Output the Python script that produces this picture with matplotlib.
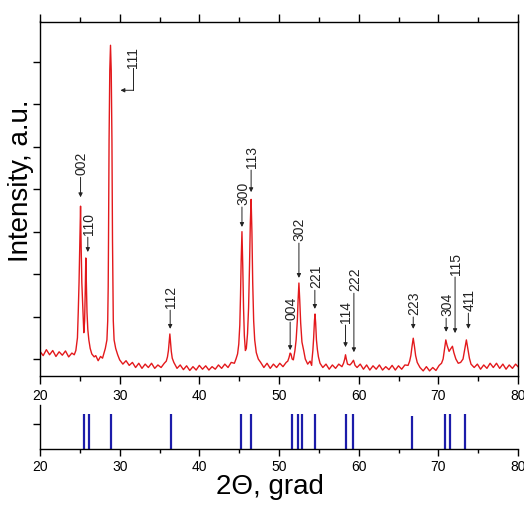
import numpy as np
import matplotlib
matplotlib.use("Agg")
import matplotlib.pyplot as plt
from matplotlib.ticker import MultipleLocator

plt.rcParams["font.family"] = ["Liberation Sans", "DejaVu Sans"]

# measured pattern, 2theta [deg] vs intensity [a.u.]
two_theta = [
    20.0, 20.4, 20.8, 21.2, 21.6, 22.0, 22.4, 22.8, 23.2, 23.6, 24.0, 24.3,
    24.5, 24.7, 24.8, 24.9, 25.0, 25.09, 25.16, 25.25, 25.38, 25.5,
    25.6, 25.68, 25.75, 25.82, 25.9, 26.0, 26.13, 26.3, 26.5, 26.8,
    27.0, 27.3, 27.6, 27.85,
    28.0, 28.2, 28.4, 28.5, 28.56, 28.6, 28.67, 28.76, 28.85, 28.94, 29.03, 29.1,
    29.15, 29.2, 29.3, 29.5, 29.75,
    30.0, 30.4, 30.8, 31.2, 31.6, 32.0, 32.4, 32.8, 33.2, 33.6, 34.0, 34.4, 34.8, 35.2, 35.6,
    35.85, 36.0, 36.12, 36.22, 36.3, 36.38, 36.48, 36.6, 36.8,
    37.2, 37.6, 38.0, 38.4, 38.8, 39.2, 39.6, 40.0, 40.4, 40.8, 41.2, 41.6, 42.0,
    42.4, 42.8, 43.2, 43.6, 44.0, 44.4,
    44.6, 44.8, 44.95, 45.08, 45.17, 45.25, 45.35, 45.45, 45.55, 45.65, 45.78,
    45.9, 46.05, 46.18, 46.3, 46.4, 46.5, 46.6, 46.7, 46.82, 46.95, 47.15, 47.4,
    47.7, 48.1, 48.5, 48.9, 49.3, 49.7, 50.1, 50.5, 50.9,
    51.1, 51.25, 51.4, 51.5, 51.65,
    51.8, 52.0, 52.15, 52.3, 52.4, 52.5, 52.6, 52.72, 52.88, 53.1, 53.3,
    53.6, 53.9, 54.1,
    54.15, 54.25, 54.35, 54.45, 54.52, 54.6, 54.7, 54.82, 54.95, 55.15,
    55.5, 55.9, 56.3, 56.7, 57.1, 57.5, 57.9,
    58.1, 58.25, 58.35, 58.45, 58.6, 58.9, 59.1, 59.35, 59.55,
    59.8, 60.2, 60.6, 61.0, 61.4, 61.8, 62.2, 62.6, 63.0, 63.4, 63.8, 64.2, 64.6,
    65.0, 65.4, 65.8, 66.2,
    66.4, 66.55, 66.7, 66.85, 67.0, 67.15, 67.35,
    67.7, 68.1, 68.5, 68.9, 69.3, 69.7, 70.1, 70.4,
    70.6, 70.75, 70.94, 71.1, 71.35, 71.55, 71.77, 71.95, 72.2, 72.5, 72.8,
    73.1, 73.3, 73.52, 73.7, 73.9, 74.1,
    74.5, 74.9, 75.3, 75.7, 76.1, 76.5, 76.9, 77.3, 77.7, 78.1, 78.5, 78.9,
    79.3, 79.7, 80.0,
]
intensity = [
    0.18, 0.08, 0.22, 0.10, 0.20, 0.06, 0.17, 0.09, 0.19, 0.05, 0.14, 0.10,
    0.20, 0.50, 1.10, 1.80, 2.80, 3.60, 2.70, 1.80, 1.20, 0.62,
    0.90, 1.60, 2.38, 1.80, 1.10, 0.70, 0.45, 0.25, 0.12, 0.05,
    0.08, -0.04, 0.06, 0.02,
    0.12, 0.25, 0.45, 0.90, 1.70, 2.80, 5.15, 6.80, 7.39, 6.80, 5.15, 2.80,
    1.70, 0.90, 0.45, 0.25, 0.10,
    -0.02, -0.12, -0.04, -0.15, -0.08, -0.20, -0.10, -0.22, -0.12, -0.20, -0.10, -0.22, -0.14, -0.20, -0.10,
    -0.05, 0.05, 0.20, 0.42, 0.59, 0.40, 0.18, 0.02, -0.08,
    -0.22, -0.14, -0.25, -0.16, -0.27, -0.18, -0.26, -0.15, -0.24, -0.16, -0.26, -0.18, -0.24,
    -0.14, -0.22, -0.12, -0.20, -0.08, -0.10,
    0.00, 0.12, 0.35, 0.80, 1.50, 2.30, 3.00, 2.20, 1.20, 0.55, 0.20,
    0.25, 0.60, 1.20, 2.20, 3.20, 3.76, 3.00, 1.80, 0.90, 0.45, 0.15, 0.00,
    -0.08, -0.20, -0.10, -0.22, -0.12, -0.20, -0.10, -0.18, -0.08,
    -0.05, 0.03, 0.14, 0.12, 0.00,
    -0.02, 0.20, 0.45, 0.90, 1.40, 1.79, 1.40, 0.85, 0.40, 0.20, 0.00,
    -0.12, -0.05, -0.15,
    0.00, 0.20, 0.50, 0.90, 1.06, 0.85, 0.45, 0.22, 0.05, -0.10,
    -0.20, -0.12, -0.24, -0.14, -0.22, -0.12, -0.18,
    -0.10, 0.00, 0.10, 0.00, -0.12, -0.14, -0.10, -0.03, -0.15,
    -0.20, -0.12, -0.24, -0.14, -0.26, -0.16, -0.24, -0.14, -0.26, -0.18, -0.25, -0.15, -0.26,
    -0.16, -0.24, -0.14, -0.15,
    -0.05, 0.08, 0.30, 0.49, 0.30, 0.08, -0.08,
    -0.20, -0.28, -0.18, -0.28, -0.20, -0.27, -0.15, -0.10,
    0.00, 0.20, 0.45, 0.32, 0.18, 0.24, 0.30, 0.15, 0.00, -0.10, -0.08,
    0.00, 0.22, 0.45, 0.25, 0.02, -0.12,
    -0.20, -0.12, -0.24, -0.14, -0.22, -0.10, -0.20, -0.10, -0.22, -0.12, -0.24, -0.14,
    -0.22, -0.12, -0.18,
]

# reference card lines
ref_pos = [25.57, 26.1, 28.85, 36.4, 45.25, 46.43, 51.6, 52.44, 52.85, 54.52,
           58.36, 59.32, 66.65, 70.78, 71.5, 73.38]
ref_int = [70, 70, 70, 70, 70, 70, 70, 70, 70, 70, 70, 70, 66, 70, 70, 70]

# peak labels
hkl = ["002", "110", "112", "300", "113", "004", "302", "221", "114", "222",
       "223", "304", "115", "411"]
hkl_x = [25.09, 26.0, 36.34, 45.35, 46.5, 51.4, 52.5, 54.5, 58.35, 59.4,
         66.85, 70.98, 72.1, 73.77]
text_y = [4.28, 2.87, 1.15, 3.58, 4.45, 0.87, 2.73, 1.62, 0.8, 1.55,
          0.99, 0.96, 1.93, 1.08]
tip_y = [3.81, 2.52, 0.71, 3.11, 3.93, 0.21, 1.91, 1.18, 0.28, 0.16,
         0.71, 0.64, 0.61, 0.71]

fig = plt.figure(figsize=(5.24, 5.05), dpi=100)
ax = fig.add_axes([40/524, (505-376)/505, 478/524, 354.5/505])
ax2 = fig.add_axes([40/524, (505-449)/505, 478/524, 44/505])

ax.plot(two_theta, intensity, color="#e3191c", lw=1.0)
ax.set_xlim(20, 80)
ax.set_ylim(-0.4, 7.95)
ax.set_yticks(range(0, 8))
ax.set_yticklabels([])
ax.xaxis.set_major_locator(MultipleLocator(10))
ax.xaxis.set_minor_locator(MultipleLocator(5))
ax.tick_params(axis="x", which="both", top=True, direction="out", labelsize=10, pad=3)
ax.tick_params(axis="x", which="major", length=6, width=1)
ax.tick_params(axis="x", which="minor", length=3.5, width=1)
ax.tick_params(axis="y", which="both", direction="out", length=5, width=1)
for s in ax.spines.values():
    s.set_linewidth(1.0)

arrow_kw = dict(arrowstyle="-|>", color="#222222", lw=0.7, mutation_scale=6,
                shrinkA=0, shrinkB=0)
for lab, x, ty, py in zip(hkl, hkl_x, text_y, tip_y):
    ax.text(x + 0.12, ty + 0.05, lab, rotation=90, ha="center", va="bottom",
            fontsize=10, color="#222222")
    ax.annotate("", xy=(x, py), xytext=(x, ty), arrowprops=arrow_kw)

# 111 with bent leader
ax.text(31.66, 6.85, "111", rotation=90, ha="center", va="bottom",
        fontsize=10, color="#222222")
ax.plot([31.66, 31.66], [6.85, 6.33], color="#222222", lw=0.7)
ax.annotate("", xy=(30.1, 6.33), xytext=(31.66, 6.33), arrowprops=arrow_kw)

ax2.vlines(ref_pos, 0, ref_int, color="#1c1caa", lw=1.6)
ax2.set_xlim(20, 80)
ax2.set_ylim(0, 88)
ax2.set_yticks([50])
ax2.set_yticklabels([])
ax2.spines["top"].set_visible(False)
ax2.spines["right"].set_visible(False)
ax2.xaxis.set_major_locator(MultipleLocator(10))
ax2.xaxis.set_minor_locator(MultipleLocator(5))
ax2.tick_params(axis="x", which="both", direction="out", labelsize=10, pad=3)
ax2.tick_params(axis="x", which="major", length=5, width=1)
ax2.tick_params(axis="x", which="minor", length=3, width=1)
ax2.tick_params(axis="y", direction="out", length=5, width=1)
for s in ax2.spines.values():
    s.set_linewidth(1.0)

fig.text(270/524, 1 - 494/505, "2\u0398, grad", ha="center", va="baseline", fontsize=20)
fig.text(21/524, 1 - 181/505, "Intensity, a.u.", rotation=90, ha="center",
         va="center", fontsize=20)

fig.savefig("out.png", dpi=100)
